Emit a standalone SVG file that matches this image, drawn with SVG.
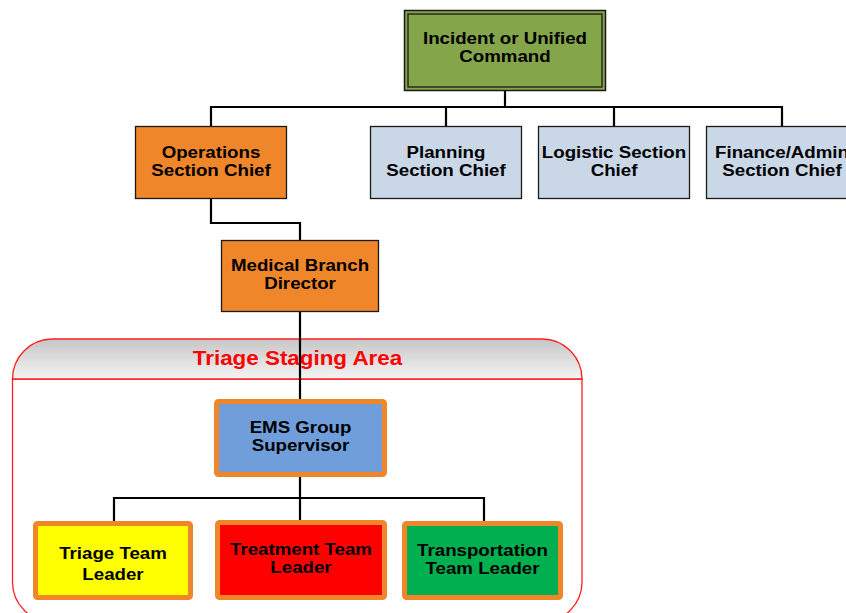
<svg xmlns="http://www.w3.org/2000/svg" width="846" height="613" viewBox="0 0 846 613">
<defs>
<linearGradient id="hdr" x1="0" y1="0" x2="0" y2="1">
<stop offset="0" stop-color="#c6c6c6"/>
<stop offset="1" stop-color="#f4f4f4"/>
</linearGradient>
<style>
text{font-family:"Liberation Sans",Arial,sans-serif;font-weight:bold;font-size:17px;text-anchor:middle;fill:#000}
.sec{stroke:#1a1a1a;stroke-width:1.3}
.org{fill:#f0862a}
.blue{fill:#c9d7e7}
.team{stroke:#f0862a;stroke-width:5}
.conn{fill:none;stroke:#000;stroke-width:2.2}
</style>
</defs>
<rect width="846" height="613" fill="#fff"/>
<g id="staging-area">
<path d="M12.5,379 L12.5,582 A40,40 0 0 0 52.5,622 L542,622 A40,40 0 0 0 582,582 L582,379 Z" fill="#fff" stroke="#ff2020" stroke-width="1.3"/>
<path d="M12.5,379 A40,40 0 0 1 52.5,339 L542,339 A40,40 0 0 1 582,379 Z" fill="url(#hdr)" stroke="#ff2020" stroke-width="1.3"/>
<text transform="matrix(1.12 0 0 1 297.5 365)" style="font-size:20px;fill:#ff0000">Triage Staging Area</text>
</g>
<g id="connectors">
<path class="conn" d="M505,91 V107 M211,126 V107 H782 V126 M446,107 V126 M614,107 V126"/>
<path class="conn" d="M211,199 V223 H300 V240"/>
<path class="conn" d="M300,312 V401"/>
<path class="conn" d="M300,477 V498 M114,522 V498 H484 V522 M300,498 V521"/>
</g>
<g id="incident">
<rect x="404.5" y="10.5" width="201" height="80" fill="#84a54a" stroke="#1a1a1a" stroke-width="1.5"/>
<rect x="408" y="14" width="194" height="73" fill="none" stroke="#1a1a1a" stroke-width="1.3"/>
<text transform="matrix(1.1 0 0 1 505 44)">Incident or Unified</text>
<text transform="matrix(1.1 0 0 1 505 62)">Command</text>
</g>
<g id="operations">
<rect class="sec org" x="135.5" y="126.5" width="151" height="72"/>
<text transform="matrix(1.1 0 0 1 211 158)">Operations</text>
<text transform="matrix(1.1 0 0 1 211 176)">Section Chief</text>
</g>
<g id="planning">
<rect class="sec blue" x="370.5" y="126.5" width="151" height="72"/>
<text transform="matrix(1.1 0 0 1 446 158)">Planning</text>
<text transform="matrix(1.1 0 0 1 446 176)">Section Chief</text>
</g>
<g id="logistic">
<rect class="sec blue" x="538.5" y="126.5" width="151" height="72"/>
<text transform="matrix(1.1 0 0 1 614 158)">Logistic Section</text>
<text transform="matrix(1.1 0 0 1 614 176)">Chief</text>
</g>
<g id="finance">
<rect class="sec blue" x="706.5" y="126.5" width="151" height="72"/>
<text transform="matrix(1.1 0 0 1 782 158)">Finance/Admin</text>
<text transform="matrix(1.1 0 0 1 782 176)">Section Chief</text>
</g>
<g id="medical">
<rect class="sec org" x="221.5" y="240.5" width="157" height="71"/>
<text transform="matrix(1.1 0 0 1 300 271)">Medical Branch</text>
<text transform="matrix(1.1 0 0 1 300 289)">Director</text>
</g>
<g id="ems">
<rect class="team" x="216.5" y="401.5" width="168" height="73" rx="2" fill="#6f9edb"/>
<text transform="matrix(1.1 0 0 1 300.5 433)">EMS Group</text>
<text transform="matrix(1.1 0 0 1 300.5 451)">Supervisor</text>
</g>
<g id="triage-team">
<rect class="team" x="35.5" y="523.5" width="155" height="74" rx="2" fill="#ffff00"/>
<text transform="matrix(1.1 0 0 1 113 559)">Triage Team</text>
<text transform="matrix(1.1 0 0 1 113 580)">Leader</text>
</g>
<g id="treatment-team">
<rect class="team" x="217.5" y="522.5" width="167" height="75" rx="2" fill="#ff0000"/>
<text transform="matrix(1.1 0 0 1 301 555)">Treatment Team</text>
<text transform="matrix(1.1 0 0 1 301 573)">Leader</text>
</g>
<g id="transportation-team">
<rect class="team" x="404.5" y="523.5" width="156" height="74" rx="2" fill="#00af50"/>
<text transform="matrix(1.1 0 0 1 482.5 556)">Transportation</text>
<text transform="matrix(1.1 0 0 1 482.5 574)">Team Leader</text>
</g>
</svg>
